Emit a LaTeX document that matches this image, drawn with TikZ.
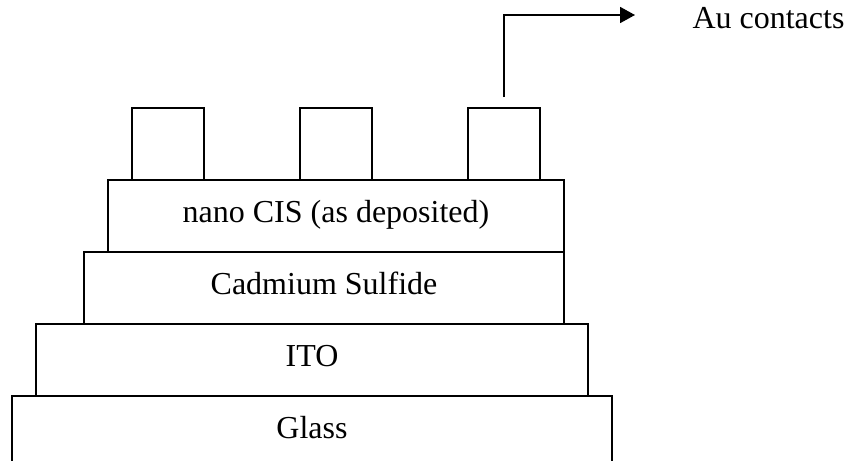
\documentclass[tikz,border=0pt]{standalone}
\usepackage{fontspec}
\setmainfont{Liberation Serif}
\usepackage{tikz}
\usetikzlibrary{arrows.meta,positioning}
\tikzset{
  >={Triangle[length=5.6pt,width=6pt]},
  layer/.style={rectangle,draw,line width=0.6pt,inner sep=0pt,outer sep=0pt,minimum height=27pt,text height=9pt,text depth=4.5pt},
  contact/.style={layer,minimum width=27pt},
  lead/.style={->,line width=0.6pt}
}

\begin{document}
\begin{tikzpicture}[x=0.375pt,y=-0.375pt,font=\fontsize{12}{14}\selectfont]
  \useasboundingbox (0,0) rectangle (849,461);

  % Layer stack (bottom to top)
  \node[layer,minimum width=225pt] (glass) at (312,432) {Glass};
  \node[layer,minimum width=207pt,above=0pt of glass] (ito) {ITO};
  \node[layer,minimum width=180pt,above=0pt of ito,xshift=4.5pt] (cds) {Cadmium Sulfide};
  \node[layer,minimum width=171pt,above=0pt of cds,xshift=4.5pt] (cis) {nano CIS (as deposited)};

  % Gold contacts
  \node[contact,above=0pt of cis,xshift=-63pt] (c1) {};
  \node[contact,above=0pt of cis] (c2) {};
  \node[contact,above=0pt of cis,xshift=63pt] (c3) {};

  % Label with leader
  \coordinate (tip) at (635,15);
  \node[anchor=base west,inner sep=0pt] (au) at (692,28) {Au contacts};
  \draw[lead] ([yshift=4.1pt]c3.north) |- (tip);
\end{tikzpicture}
\end{document}
